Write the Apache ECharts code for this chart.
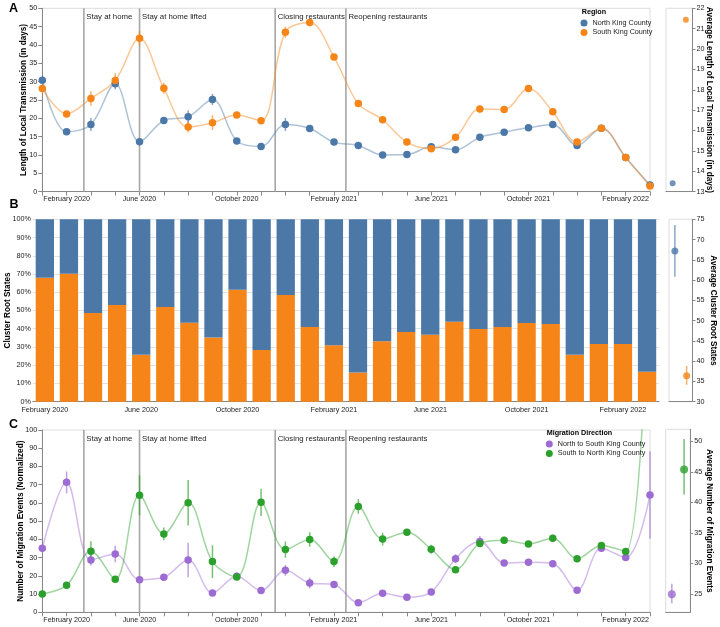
<!DOCTYPE html>
<html>
<head>
<meta charset="utf-8">
<script src="https://cdn.jsdelivr.net/npm/echarts@6/dist/echarts.min.js"></script>
<style>
  html, body { margin: 0; padding: 0; background: #fff; }
  #chart { width: 720px; height: 627px; }
</style>
</head>
<body>
<div id="chart"></div>
<script>
// one entry per month (points in A and C, bars in B)
const months = ['2020-02','2020-03','2020-04','2020-05','2020-06','2020-07','2020-08','2020-09','2020-10','2020-11','2020-12',
  '2021-01','2021-02','2021-03','2021-04','2021-05','2021-06','2021-07','2021-08','2021-09','2021-10','2021-11','2021-12',
  '2022-01','2022-02','2022-03'];

// tick labels (index -> text)
const lineTicks = {1: 'February 2020', 4: 'June 2020', 8: 'October 2020', 12: 'February 2021', 16: 'June 2021', 20: 'October 2021', 24: 'February 2022'};
const barTicks = {0: 'February 2020', 4: 'June 2020', 8: 'October 2020', 12: 'February 2021', 16: 'June 2021', 20: 'October 2021', 24: 'February 2022'};

// policy events, position in month index units
const eventNames = ['Stay at home', 'Stay at home lifted', 'Closing restaurants', 'Reopening restaurants'];
const eventPos = [1.71, 4, 9.58, 12.49];

// A: length of local transmission (days)
const northLen = [30.4,16.3,18.3,29.4,13.6,19.4,20.4,25.1,13.8,12.3,18.3,17.2,13.5,12.6,10.0,10.1,12.2,11.4,14.8,16.2,17.4,18.3,12.6,17.3,9.3,1.8];
const northLenErr = [1.5,0.8,1.8,1.5,0.8,0.8,1.8,1.5,0.8,0.8,1.8,0.8,0.8,0.6,0.5,0.5,0.6,0.6,0.6,0.6,0.6,0.6,0.6,0.6,0.5,0.5];
const southLen = [28.1,21.2,25.4,30.3,41.8,28.2,17.6,18.8,20.9,19.3,43.5,46.1,36.7,24.0,19.6,13.5,11.7,14.8,22.5,22.4,28.1,21.8,13.5,17.3,9.3,1.5];
const southLenErr = [1.5,0.8,2,2,2,1.5,1.5,2,0.8,0.8,1.5,1,0.8,0.8,0.6,0.6,0.6,0.6,0.6,0.6,0.6,0.6,0.6,0.6,0.5,0.5];
const avgLen = [13.41, 21.44];

// B: cluster root states (%)
const southShare = [68,70.2,48.6,53,25.7,51.9,43.3,35.2,61.4,28.3,58.5,40.9,31,16,33.2,38.2,36.7,43.8,39.8,40.9,43.1,42.6,25.7,31.6,31.6,16.4];
const northShare = [32,29.8,51.4,47,74.3,48.1,56.7,64.8,38.6,71.7,41.5,59.1,69,84,66.8,61.8,63.3,56.2,60.2,59.1,56.9,57.4,74.3,68.4,68.4,83.6];
const avgRoot = [67.2, 36.4];
const avgRootLo = [60.8, 34.2];
const avgRootHi = [73.6, 38.8];

// C: migration events (normalized)
const northToSouth = [35.1,71.3,28.7,32,17.9,19.2,28.7,10.6,19.8,11.9,23,16.1,15.2,5.3,10.4,8.2,11.2,29.4,38.9,27.1,27.4,26.7,12.1,35.1,30,64.4];
const northToSouthErr = [3,6,3,4.5,1.5,1.5,9.5,1.5,2,1.5,3,3,1.5,1,1,1,1.5,2.5,3,1.5,1.5,1.5,1.5,2,1.5,24];
const southToNorth = [10.1,14.8,33.5,18.1,64.2,43,60.1,27.8,19.4,60.3,34.4,39.9,27.8,58,40.2,43.9,34.6,23.4,37.8,39.5,37.5,40.6,29.4,36.7,33.3,200];
const southToNorthErr = [1,1,5.5,1.5,11,3.5,12.5,9,2,7.5,4.5,4,3,4,3.5,1.5,2.5,1.5,2,2,1.5,2,1.5,1.5,1,0];
const avgMig = [24.95, 45.4];
const avgMigLo = [23.5, 41.3];
const avgMigHi = [26.7, 50.4];

const NORTH = '#4c78a8', SOUTH = '#f58518', N2S = '#9d6cd2', S2N = '#2ca02c';
const FONT = 'Liberation Sans, Arial, sans-serif';
const AXIS = '#888';

let chart = echarts.init(document.getElementById('chart'));

function monthAxis(grid) {
  return {
    type: 'value', gridIndex: grid, min: 0, max: 25, interval: 1,
    axisLine: { lineStyle: { color: AXIS } },
    axisTick: { length: 4, lineStyle: { color: AXIS } },
    axisLabel: { fontSize: 7.2, color: '#222', fontFamily: FONT, margin: 4, formatter: v => lineTicks[v] || '' },
    splitLine: { show: false }
  };
}
function sideX(grid) {
  return {
    type: 'category', gridIndex: grid, data: ['North', 'South'],
    axisLine: { lineStyle: { color: AXIS } },
    axisTick: { length: 3, alignWithLabel: true, lineStyle: { color: AXIS } },
    axisLabel: { show: false }
  };
}
function leftY(grid, name, gap, extra) {
  return Object.assign({
    type: 'value', gridIndex: grid, name: name, nameLocation: 'middle', nameGap: gap, nameMoveOverlap: false,
    nameTextStyle: { fontWeight: 'bold', fontSize: 8.2, color: '#000', fontFamily: FONT },
    axisLine: { show: true, lineStyle: { color: AXIS } },
    axisTick: { show: true, length: 4, lineStyle: { color: AXIS } },
    axisLabel: { fontSize: 7.2, color: '#222', fontFamily: FONT, margin: 5 },
    splitLine: { show: false }
  }, extra);
}
function rightY(grid, name, gap, extra) {
  return Object.assign({
    type: 'value', gridIndex: grid, position: 'right', name: name, nameLocation: 'middle', nameGap: gap, nameRotate: -90,
    nameMoveOverlap: false,
    nameTextStyle: { fontWeight: 'bold', fontSize: 8.2, color: '#000', fontFamily: FONT },
    axisLine: { show: true, lineStyle: { color: AXIS } },
    axisTick: { show: true, length: 3, lineStyle: { color: AXIS } },
    axisLabel: { fontSize: 7.2, color: '#222', fontFamily: FONT, margin: 4 },
    splitLine: { show: false }
  }, extra);
}

function events(xi, yi) {
  return {
    type: 'custom', xAxisIndex: xi, yAxisIndex: yi, silent: true, z: 1,
    data: eventPos.map((p, i) => [p, i]),
    renderItem: (params, api) => {
      const cs = params.coordSys;
      const x = api.coord([api.value(0), 0])[0];
      return { type: 'group', children: [
        { type: 'line', shape: { x1: x, y1: cs.y, x2: x, y2: cs.y + cs.height }, style: { stroke: '#a6a6a6', lineWidth: 1.6 } },
        { type: 'text', x: x + 2.5, y: cs.y + 4.5,
          style: { text: eventNames[params.dataIndex], fill: '#222', font: '7.8px ' + FONT, verticalAlign: 'top', align: 'left' } }
      ] };
    }
  };
}
function errorBars(xi, yi, rows, color) {
  return {
    type: 'custom', xAxisIndex: xi, yAxisIndex: yi, silent: true, clip: true, z: 2,
    data: rows,
    renderItem: (params, api) => {
      const a = api.coord([api.value(0), api.value(1)]);
      const b = api.coord([api.value(0), api.value(2)]);
      return { type: 'line', shape: { x1: a[0], y1: a[1], x2: b[0], y2: b[1] }, style: { stroke: color, lineWidth: 1.5, opacity: 0.65 } };
    }
  };
}
// [index, low, high] rows from value +- half width
function spread(vals, errs) {
  return vals.map((v, i) => [i, v - errs[i], v + errs[i]]);
}
function trend(name, xi, yi, vals, color) {
  return {
    name: name, type: 'line', xAxisIndex: xi, yAxisIndex: yi, smooth: 0.35, clip: true,
    symbol: 'circle', symbolSize: 7.5, showSymbol: true, color: color, z: 3,
    itemStyle: { color: color }, lineStyle: { color: color, width: 1.5, opacity: 0.45 },
    data: vals.map((v, i) => [i, v])
  };
}
function sidePoints(xi, yi, vals, colors, size) {
  return {
    type: 'scatter', xAxisIndex: xi, yAxisIndex: yi, symbolSize: size, silent: true, z: 4,
    data: vals.map((v, i) => ({ value: [i, v], itemStyle: { color: colors[i] } }))
  };
}
function box(left, top, width, height, framed) {
  return { left, top, width, height, show: framed, borderColor: '#ddd', borderWidth: 1,
    containLabel: false, outerBoundsMode: 'none' };
}

let option = {
  animation: false,
  backgroundColor: '#fff',
  textStyle: { fontFamily: FONT },
  grid: [
    box(42.3, 8.3, 607.7, 183.3, true),
    box(666, 8.3, 26.5, 183.3, true),
    box(32.8, 219.3, 626.3, 182.4, false),
    box(669, 219.3, 23.5, 182.4, true),
    box(42.3, 430, 607.7, 182.3, true),
    box(665.7, 429.3, 24.5, 183, true)
  ],
  xAxis: [
    monthAxis(0),
    sideX(1),
    {
      type: 'category', gridIndex: 2, data: months,
      axisLine: { lineStyle: { color: AXIS } },
      axisTick: { length: 3, interval: 0, alignWithLabel: true, lineStyle: { color: AXIS } },
      axisLabel: { interval: 0, fontSize: 7.2, color: '#222', fontFamily: FONT, margin: 5, formatter: (v, i) => barTicks[i] || '' }
    },
    sideX(3),
    monthAxis(4),
    sideX(5)
  ],
  yAxis: [
    leftY(0, 'Length of Local Transmission (in days)', 14.5, { min: 0, max: 50, interval: 5 }),
    rightY(1, 'Average Length of Local Transmission (in days)', 13, { min: 13, max: 22, interval: 1 }),
    leftY(2, 'Cluster Root States', 21, {
      min: 0, max: 100, interval: 10,
      axisLine: { show: false }, axisTick: { show: false },
      axisLabel: { fontSize: 7.2, color: '#222', fontFamily: FONT, margin: 2, formatter: '{value}%' },
      splitLine: { show: true, lineStyle: { color: '#e3e3e3', width: 1 } }
    }),
    rightY(3, 'Average Cluster Root States', 16.5, { min: 30, max: 75, interval: 5 }),
    leftY(4, 'Number of Migration Events (Normalized)', 17.5, { min: 0, max: 100, interval: 10 }),
    rightY(5, 'Average Number of Migration Events', 15.5, {
      min: 22, max: 52, splitNumber: 6,
      axisLabel: { fontSize: 7.2, color: '#222', fontFamily: FONT, margin: 4, showMinLabel: false, showMaxLabel: false }
    })
  ],
  legend: [
    {
      data: ['North King County', 'South King County'], left: 580.5, top: 19.5, orient: 'vertical',
      icon: 'circle', itemWidth: 7, itemHeight: 7, itemGap: 2.5, padding: 0, selectedMode: false,
      textStyle: { fontSize: 7.2, color: '#222', fontFamily: FONT }
    },
    {
      data: ['North to South King County', 'South to North King County'], left: 545.8, top: 440.5, orient: 'vertical',
      icon: 'circle', itemWidth: 7, itemHeight: 7, itemGap: 2.5, padding: 0, selectedMode: false,
      textStyle: { fontSize: 7.2, color: '#222', fontFamily: FONT }
    }
  ],
  graphic: [
    { type: 'text', left: 9, top: 2, style: { text: 'A', font: 'bold 12.5px ' + FONT, fill: '#000' } },
    { type: 'text', left: 9.5, top: 198, style: { text: 'B', font: 'bold 12.5px ' + FONT, fill: '#000' } },
    { type: 'text', left: 9, top: 418, style: { text: 'C', font: 'bold 12.5px ' + FONT, fill: '#000' } },
    { type: 'text', left: 581.7, top: 8.5, style: { text: 'Region', font: 'bold 7.2px ' + FONT, fill: '#000' } },
    { type: 'text', left: 546.7, top: 429.5, style: { text: 'Migration Direction', font: 'bold 7.2px ' + FONT, fill: '#000' } }
  ],
  series: [
    // A
    events(0, 0),
    errorBars(0, 0, spread(northLen, northLenErr), NORTH),
    errorBars(0, 0, spread(southLen, southLenErr), SOUTH),
    trend('North King County', 0, 0, northLen, NORTH),
    trend('South King County', 0, 0, southLen, SOUTH),
    sidePoints(1, 1, avgLen, [NORTH, SOUTH], 6),
    // B
    { name: 'South King County', type: 'bar', stack: 'share', xAxisIndex: 2, yAxisIndex: 2, barWidth: 18.3,
      itemStyle: { color: SOUTH }, data: southShare },
    { name: 'North King County', type: 'bar', stack: 'share', xAxisIndex: 2, yAxisIndex: 2, barWidth: 18.3,
      itemStyle: { color: NORTH }, data: northShare },
    errorBars(3, 3, [[0, avgRootLo[0], avgRootHi[0]]], NORTH),
    errorBars(3, 3, [[1, avgRootLo[1], avgRootHi[1]]], SOUTH),
    sidePoints(3, 3, avgRoot, [NORTH, SOUTH], 7),
    // C
    events(4, 4),
    errorBars(4, 4, spread(northToSouth, northToSouthErr), N2S),
    errorBars(4, 4, spread(southToNorth, southToNorthErr), S2N),
    trend('North to South King County', 4, 4, northToSouth, N2S),
    trend('South to North King County', 4, 4, southToNorth, S2N),
    errorBars(5, 5, [[0, avgMigLo[0], avgMigHi[0]]], N2S),
    errorBars(5, 5, [[1, avgMigLo[1], avgMigHi[1]]], S2N),
    sidePoints(5, 5, avgMig, [N2S, S2N], 8)
  ]
};

option && chart.setOption(option);
</script>
</body>
</html>
